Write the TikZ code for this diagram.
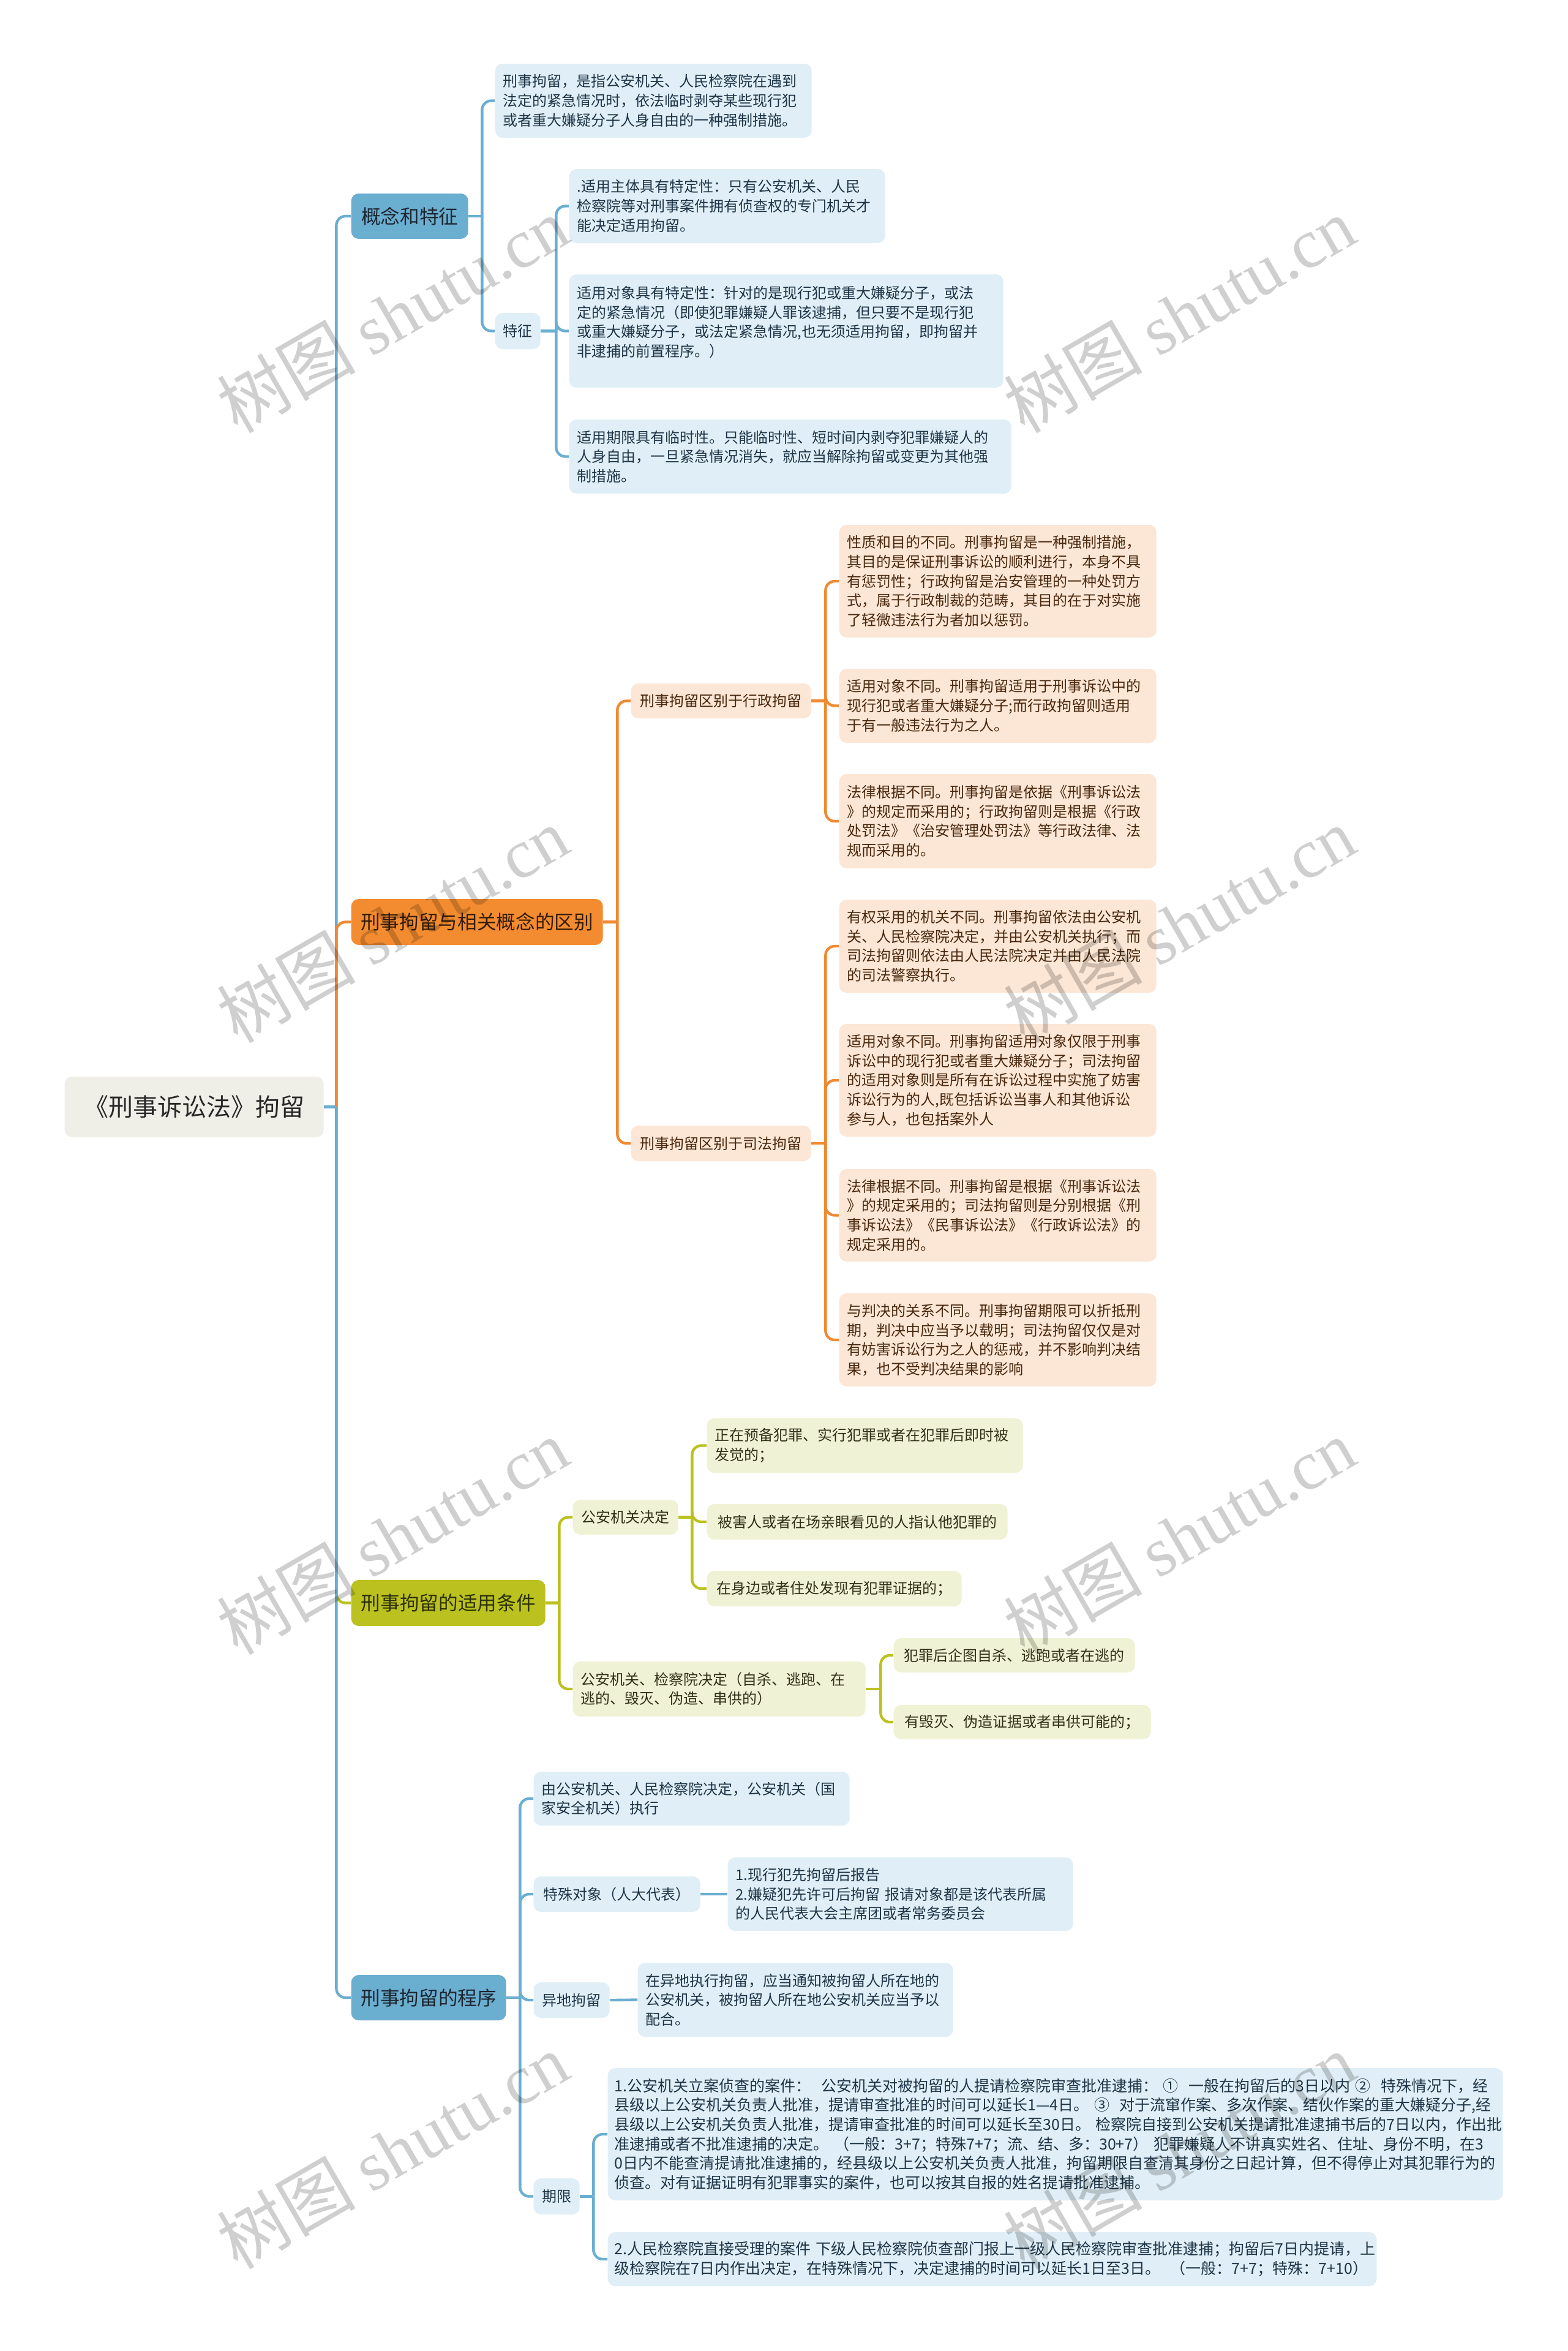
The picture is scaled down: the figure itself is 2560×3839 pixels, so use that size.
\documentclass[tikz,border=0pt]{standalone}
\usepackage{fontspec}
\setmainfont{Noto Sans CJK SC}
\newfontfamily\wmserif{Liberation Serif}
\definecolor{cB}{RGB}{106,174,208}
\definecolor{cBl}{RGB}{224,239,247}
\definecolor{cO}{RGB}{240,138,50}
\definecolor{cOf}{RGB}{243,140,48}
\definecolor{cOl}{RGB}{252,230,213}
\definecolor{cG}{RGB}{187,193,30}
\definecolor{cGl}{RGB}{240,242,213}
\definecolor{cR}{RGB}{239,239,231}
\definecolor{tB}{RGB}{30,52,70}
\definecolor{tK}{RGB}{28,38,48}
\definecolor{tO}{RGB}{72,40,14}
\definecolor{tKO}{RGB}{52,28,8}
\definecolor{tG}{RGB}{48,48,24}
\definecolor{tKG}{RGB}{44,48,8}
\definecolor{tR}{RGB}{40,40,40}
\tikzset{
  lf/.style={font=\fontsize{7.2pt}{9.5pt}\selectfont},
  lfw/.style={font=\fontsize{7.5pt}{9.5pt}\selectfont, inner xsep=3.3pt},
  basebox/.style={rounded corners=3.6pt, anchor=west, inner xsep=3.9pt, inner ysep=1pt},
  leafB/.style={basebox, lf, fill=cBl, text=tB, align=left},
  leafO/.style={basebox, lf, fill=cOl, text=tO, align=left},
  leafG/.style={basebox, lf, fill=cGl, text=tG, align=left},
  topk/.style={basebox, font=\fontsize{9.5pt}{12pt}\selectfont, align=center},
  topB/.style={topk, fill=cB, text=tK},
  topO/.style={topk, fill=cOf, text=tKO},
  topG/.style={topk, fill=cG, text=tKG},
  rootbox/.style={basebox, fill=cR, text=tR, font=\fontsize{12pt}{14pt}\selectfont, align=center},
  lnB/.style={draw=cB, line width=1.3pt, rounded corners=4.5pt},
  lnO/.style={draw=cO, line width=1.3pt, rounded corners=4.5pt},
  lnG/.style={draw=cG, line width=1.3pt, rounded corners=4.5pt},
  wm/.style={text=black, opacity=0.19, font=\fontsize{34pt}{34pt}\selectfont, rotate=30, inner sep=0pt}
}
\begin{document}
\begin{tikzpicture}[x=0.3pt,y=-0.3pt]
\useasboundingbox (0,0) rectangle (2560,3839);
\fill[white] (0,0) rectangle (2560,3839);

% ---------- nodes ----------
\node[rootbox, minimum width=126.9pt, minimum height=29.7pt] (root) at (105,1807.5) {《刑事诉讼法》拘留};

\node[topB, minimum width=57.3pt, minimum height=22.2pt] (K1) at (573,353) {概念和特征};
\node[topO, minimum width=123.3pt, minimum height=22.5pt] (K2) at (573,1505.5) {刑事拘留与相关概念的区别};
\node[topG, minimum width=95.1pt, minimum height=22.5pt] (K3) at (573,2617.5) {刑事拘留的适用条件};
\node[topB, minimum width=75.9pt, minimum height=22.2pt] (K4) at (573,3262) {刑事拘留的程序};

% K1 children
\node[leafB, text width=147.3pt, minimum height=36.3pt] (A1) at (808,164.5) {刑事拘留，是指公安机关、人民检察院在遇到\\法定的紧急情况时，依法临时剥夺某些现行犯\\或者重大嫌疑分子人身自由的一种强制措施。};
\node[leafB, align=center, minimum width=21.9pt, minimum height=17.7pt] (A2) at (808,540.5) {特征};
\node[leafB, text width=147.0pt, minimum height=36.3pt] (B1) at (929,336.5) {.适用主体具有特定性：只有公安机关、人民\\检察院等对刑事案件拥有侦查权的专门机关才\\能决定适用拘留。};
\node[leafB, text width=204.9pt, minimum height=55.5pt] (B2) at (929,540.5) {适用对象具有特定性：针对的是现行犯或重大嫌疑分子，或法\\定的紧急情况（即使犯罪嫌疑人罪该逮捕，但只要不是现行犯\\或重大嫌疑分子，或法定紧急情况,也无须适用拘留，即拘留并\\非逮捕的前置程序。）\\\mbox{}};
\node[leafB, text width=208.8pt, minimum height=36.3pt] (B3) at (929,745.5) {适用期限具有临时性。只能临时性、短时间内剥夺犯罪嫌疑人的\\人身自由，一旦紧急情况消失，就应当解除拘留或变更为其他强\\制措施。};

% K2 children
\node[leafO, align=center, minimum width=88.2pt, minimum height=17.1pt] (C1) at (1030,1144.5) {刑事拘留区别于行政拘留};
\node[leafO, align=center, minimum width=88.2pt, minimum height=17.4pt] (C2) at (1030,1867) {刑事拘留区别于司法拘留};
\node[leafO, text width=147.6pt, minimum height=55.2pt] (O1) at (1370,949) {性质和目的不同。刑事拘留是一种强制措施，\\其目的是保证刑事诉讼的顺利进行，本身不具\\有惩罚性；行政拘留是治安管理的一种处罚方\\式，属于行政制裁的范畴，其目的在于对实施\\了轻微违法行为者加以惩罚。};
\node[leafO, text width=147.6pt, minimum height=36.3pt] (O2) at (1370,1152.5) {适用对象不同。刑事拘留适用于刑事诉讼中的\\现行犯或者重大嫌疑分子;而行政拘留则适用\\于有一般违法行为之人。};
\node[leafO, text width=147.6pt, minimum height=46.2pt] (O3) at (1370,1341) {法律根据不同。刑事拘留是依据《刑事诉讼法\\》的规定而采用的；行政拘留则是根据《行政\\处罚法》《治安管理处罚法》等行政法律、法\\规而采用的。};
\node[leafO, text width=147.6pt, minimum height=45.6pt] (P1) at (1370,1545) {有权采用的机关不同。刑事拘留依法由公安机\\关、人民检察院决定，并由公安机关执行；而\\司法拘留则依法由人民法院决定并由人民法院\\的司法警察执行。};
\node[leafO, text width=147.6pt, minimum height=55.2pt] (P2) at (1370,1764) {适用对象不同。刑事拘留适用对象仅限于刑事\\诉讼中的现行犯或者重大嫌疑分子；司法拘留\\的适用对象则是所有在诉讼过程中实施了妨害\\诉讼行为的人,既包括诉讼当事人和其他诉讼\\参与人，也包括案外人};
\node[leafO, text width=147.6pt, minimum height=45.3pt] (P3) at (1370,1984.5) {法律根据不同。刑事拘留是根据《刑事诉讼法\\》的规定采用的；司法拘留则是分别根据《刑\\事诉讼法》《民事诉讼法》《行政诉讼法》的\\规定采用的。};
\node[leafO, text width=147.6pt, minimum height=45.6pt] (P4) at (1370,2188) {与判决的关系不同。刑事拘留期限可以折抵刑\\期，判决中应当予以载明；司法拘留仅仅是对\\有妨害诉讼行为之人的惩戒，并不影响判决结\\果，也不受判决结果的影响};

% K3 children
\node[leafG, align=center, minimum width=51.6pt, minimum height=17.1pt] (G) at (935,2477.5) {公安机关决定};
\node[leafG, text width=135.6pt, minimum height=27.0pt] (H) at (935,2758) {公安机关、检察院决定（自杀、逃跑、在\\逃的、毁灭、伪造、串供的）};
\node[leafG, text width=147.0pt, minimum height=26.7pt] (G1) at (1154,2360.5) {正在预备犯罪、实行犯罪或者在犯罪后即时被\\发觉的；};
\node[leafG, align=center, minimum width=147.3pt, minimum height=17.4pt] (G2) at (1154,2485) {被害人或者在场亲眼看见的人指认他犯罪的};
\node[leafG, align=center, minimum width=124.8pt, minimum height=17.4pt] (G3) at (1154,2594) {在身边或者住处发现有犯罪证据的；};
\node[leafG, align=center, minimum width=118.2pt, minimum height=16.8pt] (H1) at (1459,2703) {犯罪后企图自杀、逃跑或者在逃的};
\node[leafG, align=center, minimum width=126.0pt, minimum height=16.8pt] (H2) at (1459,2812) {有毁灭、伪造证据或者串供可能的；};

% K4 children
\node[leafB, text width=147.0pt, minimum height=26.4pt] (Q1) at (871,2937) {由公安机关、人民检察院决定，公安机关（国\\家安全机关）执行};
\node[leafB, align=center, minimum width=81.6pt, minimum height=17.4pt] (Q2) at (871,3093) {特殊对象（人大代表）};
\node[leafB, align=center, minimum width=37.2pt, minimum height=17.4pt] (Q3) at (871,3266) {异地拘留};
\node[leafB, align=center, minimum width=22.5pt, minimum height=17.7pt] (Q4) at (871,3586.5) {期限};
\node[leafB, text width=161.4pt, minimum height=36.0pt] (Q2a) at (1188,3093) {1.现行犯先拘留后报告\\2.嫌疑犯先许可后拘留~报请对象都是该代表所属\\的人民代表大会主席团或者常务委员会};
\node[leafB, text width=146.7pt, minimum height=36.3pt] (Q3a) at (1041,3265.5) {在异地执行拘留，应当通知被拘留人所在地的\\公安机关，被拘留人所在地公安机关应当予以\\配合。};
\node[leafB, lfw, text width=432.0pt, minimum height=64.8pt] (R1) at (992,3485) {1.公安机关立案侦查的案件：~~公安机关对被拘留的人提请检察院审查批准逮捕：~①~~一般在拘留后的3日以内~②~~特殊情况下，经\\县级以上公安机关负责人批准，提请审查批准的时间可以延长1—4日。~③~~对于流窜作案、多次作案、结伙作案的重大嫌疑分子,经\\县级以上公安机关负责人批准，提请审查批准的时间可以延长至30日。~检察院自接到公安机关提请批准逮捕书后的7日以内，作出批\\准逮捕或者不批准逮捕的决定。~（一般：3+7；特殊7+7；流、结、多：30+7）~犯罪嫌疑人不讲真实姓名、住址、身份不明，在3\\0日内不能查清提请批准逮捕的，经县级以上公安机关负责人批准，拘留期限自查清其身份之日起计算，但不得停止对其犯罪行为的\\侦查。对有证据证明有犯罪事实的案件，也可以按其自报的姓名提请批准逮捕。};
\node[leafB, lfw, text width=370.2pt, minimum height=26.4pt] (R2) at (992,3689) {2.人民检察院直接受理的案件~下级人民检察院侦查部门报上一级人民检察院审查批准逮捕；拘留后7日内提请，上\\级检察院在7日内作出决定，在特殊情况下，决定逮捕的时间可以延长1日至3日。~~（一般：7+7；特殊：7+10）};

% ---------- junctions ----------
\path (root.east) ++(20,0) coordinate (j0);
\path (K1.east) ++(22,0) coordinate (jK1);
\path (A2.east) ++(25,0) coordinate (jA2);
\path (K2.east) ++(23,0) coordinate (jK2);
\path (C1.east) ++(23,0) coordinate (jC1);
\path (C2.east) ++(23,0) coordinate (jC2);
\path (K3.east) ++(22,0) coordinate (jK3);
\path (G.east) ++(22,0) coordinate (jG);
\path (H.east) ++(24,0) coordinate (jH);
\path (K4.east) ++(22,0) coordinate (jK4);
\path (Q4.east) ++(22,0) coordinate (jQ4);

% ---------- connectors ----------
\draw[lnB] (root.east) -- (j0);
\draw[lnB] (j0) |- (K1.west);
\draw[lnO] (j0) |- (K2.west);
\draw[lnG] (j0) |- (K3.west);
\draw[lnB] (j0) |- (K4.west);

\draw[lnB] (K1.east) -- (jK1);
\draw[lnB] (jK1) |- (A1.west);
\draw[lnB] (jK1) |- (A2.west);
\draw[lnB] (A2.east) -- (jA2);
\draw[lnB] (jA2) |- (B1.west);
\draw[lnB] (jA2) |- (B2.west);
\draw[lnB] (jA2) |- (B3.west);

\draw[lnO] (K2.east) -- (jK2);
\draw[lnO] (jK2) |- (C1.west);
\draw[lnO] (jK2) |- (C2.west);
\draw[lnO] (C1.east) -- (jC1);
\draw[lnO] (jC1) |- (O1.west);
\draw[lnO] (jC1) |- (O2.west);
\draw[lnO] (jC1) |- (O3.west);
\draw[lnO] (C2.east) -- (jC2);
\draw[lnO] (jC2) |- (P1.west);
\draw[lnO] (jC2) |- (P2.west);
\draw[lnO] (jC2) |- (P3.west);
\draw[lnO] (jC2) |- (P4.west);

\draw[lnG] (K3.east) -- (jK3);
\draw[lnG] (jK3) |- (G.west);
\draw[lnG] (jK3) |- (H.west);
\draw[lnG] (G.east) -- (jG);
\draw[lnG] (jG) |- (G1.west);
\draw[lnG] (jG) |- (G2.west);
\draw[lnG] (jG) |- (G3.west);
\draw[lnG] (H.east) -- (jH);
\draw[lnG] (jH) |- (H1.west);
\draw[lnG] (jH) |- (H2.west);

\draw[lnB] (K4.east) -- (jK4);
\draw[lnB] (jK4) |- (Q1.west);
\draw[lnB] (jK4) |- (Q2.west);
\draw[lnB] (jK4) |- (Q3.west);
\draw[lnB] (jK4) |- (Q4.west);
\draw[lnB] (Q2.east) -- (Q2a.west);
\draw[lnB] (Q3.east) -- (Q3a.west);
\draw[lnB] (Q4.east) -- (jQ4);
\draw[lnB] (jQ4) |- (R1.west);
\draw[lnB] (jQ4) |- (R2.west);

% ---------- watermarks ----------
\foreach \wx/\wy [count=\i] in {641/514,1926/514,641/1510,1926/1510,641/2509,1926/2509,641/3512,1926/3512}
  \node[wm] (wm\i) at (\wx,\wy) {树图 {\wmserif shutu.cn}};
\end{tikzpicture}
\end{document}
